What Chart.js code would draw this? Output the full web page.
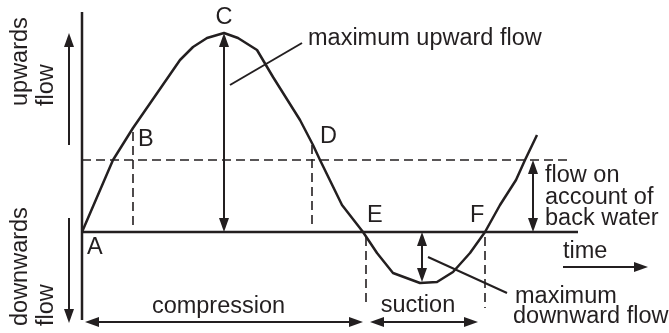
<!DOCTYPE html>
<html>
<head>
<meta charset="utf-8">
<script src="https://cdn.jsdelivr.net/npm/chart.js@4/dist/chart.umd.min.js"></script>
<style>
html,body{margin:0;padding:0;background:#fff;}
#wrap{width:669px;height:333px;}
</style>
</head>
<body>
<div id="wrap"><canvas id="c" width="669" height="333"></canvas></div>
<script>
// ---- data (time units along x, flow units along y; 0 = zero-flow line) ----
const curveTime = [82,113,133,180,193,207,224,238,257,273,300,313,320,342,363,377,393,420,437,453,470,485,500,516,525,537];
const curveFlow = [0,72,104,172,185,194,199,194,182,155,112,87,72,27,0,-21,-41,-51,-50,-40,-21,0,27,52,72,97];

const backWaterFlow = 72;            // flow on account of back water
const axisTime = 82;
const axisFlowRange = [220,-88];
const baselineTimeRange = [82,578];
const backWaterTimeRange = [82,570];

// dashed verticals at B, D, E, F
const dropTime = [133,312,366,485];
const dropFrom = [100,87,-5,-5];
const dropTo   = [7,7,-73,-76];

// arrows
const arrowFrom  = [[69,87],[69,14],[224,0],[533,72],[422,0],[563,-35],[85,-90],[370,-90]];
const arrowTo    = [[69,199],[69,-91],[224,199],[533,0],[422,-50],[648,-35],[363,-90],[478,-90]];
const arrowHeads = ['end','end','both','both','both','end','both','both'];

// leader lines
const leaderFrom = [[230,147],[428,-25]];
const leaderTo   = [[302,189],[507,-61]];

// text labels
const labelText  = ['C','B','D','E','F','A','maximum upward flow','flow on','account of','back water','time','compression','suction','maximum','downward flow','upwards','flow','downwards','flow'];
const labelTime  = [224,138,320,367,470,87,308,545,545,545,563,218.5,418,515,513,27,53,27,53];
const labelFlow  = [214.5,92,95,16,16,-16,187,50,28,7,-26,-81,-80,-71,-91,126,126,-94,-94];
const labelAlign = ['center','left','left','left','left','left','left','left','left','left','left','center','center','left','left','left','left','left','left'];
const labelBase  = ['middle','middle','middle','middle','middle','middle','alphabetic','alphabetic','alphabetic','alphabetic','alphabetic','alphabetic','alphabetic','alphabetic','alphabetic','alphabetic','alphabetic','alphabetic','alphabetic'];
const labelRot   = [0,0,0,0,0,0,0,0,0,0,0,0,0,0,0,-90,-90,-90,-90];

// ---- build chart ----
const INK = '#231f20';
const FONT = '23.5px "Liberation Sans", Arial, Helvetica, sans-serif';

function seg(x1,y1,x2,y2){return [{x:x1,y:y1},{x:x2,y:y2}];}
const datasets = [];
datasets.push({data: curveTime.map((t,i)=>({x:t,y:curveFlow[i]})), borderColor:INK, borderWidth:2.5, pointRadius:0, tension:0, fill:false, borderJoinStyle:'round'});
datasets.push({data: seg(axisTime,axisFlowRange[0],axisTime,axisFlowRange[1]), borderColor:INK, borderWidth:2.5, pointRadius:0});
datasets.push({data: seg(baselineTimeRange[0],0,baselineTimeRange[1],0), borderColor:INK, borderWidth:2.5, pointRadius:0});
datasets.push({data: seg(backWaterTimeRange[0],backWaterFlow,backWaterTimeRange[1],backWaterFlow), borderColor:INK, borderWidth:1.6, borderDash:[9,5], pointRadius:0});
dropTime.forEach((t,i)=>datasets.push({data: seg(t,dropFrom[i],t,dropTo[i]), borderColor:INK, borderWidth:1.6, borderDash:[9,5], pointRadius:0}));
leaderFrom.forEach((p,i)=>datasets.push({data: seg(p[0],p[1],leaderTo[i][0],leaderTo[i][1]), borderColor:INK, borderWidth:2, pointRadius:0}));

const annot = {
  id:'annot',
  afterDatasetsDraw(chart){
    const ctx = chart.ctx, xs = chart.scales.x, ys = chart.scales.y;
    const HL = 14, HW = 5;
    ctx.save();
    ctx.fillStyle = INK; ctx.strokeStyle = INK; ctx.lineWidth = 2;
    arrowFrom.forEach((f,i)=>{
      const x1 = xs.getPixelForValue(f[0]), y1 = ys.getPixelForValue(f[1]);
      const x2 = xs.getPixelForValue(arrowTo[i][0]), y2 = ys.getPixelForValue(arrowTo[i][1]);
      const len = Math.hypot(x2-x1,y2-y1), ux=(x2-x1)/len, uy=(y2-y1)/len;
      const both = arrowHeads[i]==='both';
      const sx = both? x1+ux*(HL-3) : x1, sy = both? y1+uy*(HL-3) : y1;
      const ex = x2-ux*(HL-3), ey = y2-uy*(HL-3);
      ctx.beginPath(); ctx.moveTo(sx,sy); ctx.lineTo(ex,ey); ctx.stroke();
      const head=(tx,ty,dx,dy)=>{
        ctx.beginPath();
        ctx.moveTo(tx,ty);
        ctx.lineTo(tx-dx*HL-dy*HW, ty-dy*HL+dx*HW);
        ctx.lineTo(tx-dx*HL+dy*HW, ty-dy*HL-dx*HW);
        ctx.closePath(); ctx.fill();
      };
      head(x2,y2,ux,uy);
      if(both) head(x1,y1,-ux,-uy);
    });
    ctx.font = FONT;
    labelText.forEach((txt,i)=>{
      const x = xs.getPixelForValue(labelTime[i]), y = ys.getPixelForValue(labelFlow[i]);
      ctx.save();
      ctx.translate(x,y);
      ctx.rotate(labelRot[i]*Math.PI/180);
      ctx.textAlign = labelAlign[i];
      ctx.textBaseline = labelBase[i];
      ctx.fillText(txt,0,0);
      ctx.restore();
    });
    ctx.restore();
  }
};

new Chart(document.getElementById('c'), {
  type:'line',
  data:{datasets},
  options:{
    responsive:false,
    animation:false,
    devicePixelRatio:1,
    parsing:false,
    layout:{padding:0},
    plugins:{legend:{display:false}, tooltip:{enabled:false}},
    elements:{line:{borderCapStyle:'butt'}},
    scales:{
      x:{type:'linear', min:0, max:669, display:false},
      y:{type:'linear', min:-101, max:232, display:false}
    }
  },
  plugins:[annot]
});
</script>
</body>
</html>
